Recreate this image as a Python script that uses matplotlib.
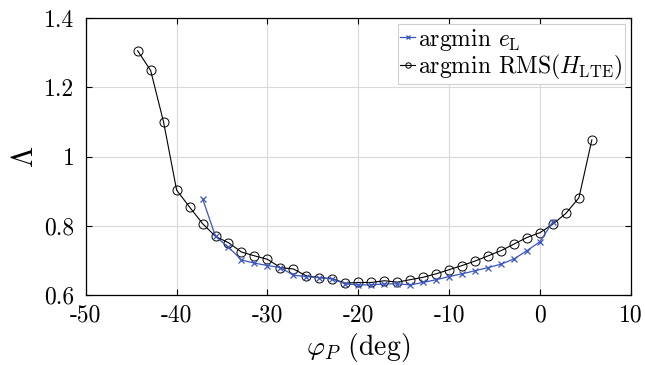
import matplotlib
matplotlib.use("Agg")
import matplotlib.pyplot as plt

# phi_P (deg) for the RMS(H_LTE) curve
phi_rms = [-44.29, -42.86, -41.43, -40.0, -38.57, -37.14, -35.71, -34.29, -32.86,
           -31.43, -30.0, -28.57, -27.14, -25.71, -24.29, -22.86, -21.43, -20.0,
           -18.57, -17.14, -15.71, -14.29, -12.86, -11.43, -10.0, -8.57, -7.14,
           -5.71, -4.29, -2.86, -1.43, 0.0, 1.43, 2.86, 4.29, 5.71]
lam_rms = [1.306, 1.249, 1.099, 0.903, 0.854, 0.806, 0.769, 0.751, 0.724,
           0.713, 0.703, 0.679, 0.675, 0.655, 0.650, 0.647, 0.634, 0.636,
           0.636, 0.641, 0.637, 0.644, 0.651, 0.661, 0.673, 0.685, 0.698,
           0.713, 0.728, 0.747, 0.766, 0.780, 0.805, 0.836, 0.881, 1.048]

# phi_P (deg) for the e_L curve
phi_el = [-37.14, -35.71, -34.29, -32.86, -31.43, -30.0, -28.57, -27.14, -25.71,
          -24.29, -22.86, -21.43, -20.0, -18.57, -17.14, -15.71, -14.29, -12.86,
          -11.43, -10.0, -8.57, -7.14, -5.71, -4.29, -2.86, -1.43, 0.0, 1.43]
lam_el = [0.878, 0.769, 0.738, 0.701, 0.692, 0.685, 0.679, 0.657, 0.653,
          0.650, 0.646, 0.632, 0.629, 0.629, 0.632, 0.632, 0.629, 0.636,
          0.644, 0.653, 0.661, 0.670, 0.679, 0.689, 0.704, 0.728, 0.754, 0.812]

xticks = [-50, -40, -30, -20, -10, 0, 10]
yticks = [0.6, 0.8, 1.0, 1.2, 1.4]
ytick_labels = ["0.6", "0.8", "1", "1.2", "1.4"]

plt.rcParams["font.family"] = ["cmr10", "DejaVu Serif"]
plt.rcParams["mathtext.fontset"] = "cm"
plt.rcParams["axes.unicode_minus"] = False

fig = plt.figure(figsize=(6.45, 3.65), dpi=100)
ax = fig.add_axes([0.133, 0.192, 0.845, 0.758])

ax.plot(phi_el, lam_el, color="#3a55c0", lw=0.9, marker="x", ms=4, mew=0.9,
        label=r"argmin $e_{\mathrm{L}}$", zorder=3)
ax.plot(phi_rms, lam_rms, color="black", lw=0.8, marker="o", ms=6.5, mfc="none",
        mew=0.7, label=r"argmin RMS$(H_{\mathrm{LTE}})$", zorder=2)

ax.set_xlim(-50, 10)
ax.set_ylim(0.6, 1.4)
ax.set_xticks(xticks)
ax.set_xticklabels([str(t) for t in xticks])
ax.set_yticks(yticks)
ax.set_yticklabels(ytick_labels)
ax.tick_params(direction="in", top=True, right=True, labelsize=17, length=4)
ax.tick_params(axis="x", pad=7)
ax.tick_params(axis="y", pad=8)
ax.grid(True, color="#d9d9d9", lw=0.8)
ax.set_axisbelow(True)

ax.set_xlabel(r"$\varphi_P$ (deg)", fontsize=20, labelpad=3)
ax.set_ylabel(r"$\Lambda$", fontsize=22, labelpad=4)

leg = ax.legend(loc="upper right", fontsize=17, handlelength=0.65, handletextpad=0.1,
                borderpad=0.1, borderaxespad=0.25, labelspacing=0.0,
                fancybox=False, framealpha=1, markerscale=0.6)
leg.get_frame().set_edgecolor("#d0d0d0")
leg.get_frame().set_linewidth(0.8)

for s in ax.spines.values():
    s.set_linewidth(0.9)

fig.savefig("out.png", dpi=100)
